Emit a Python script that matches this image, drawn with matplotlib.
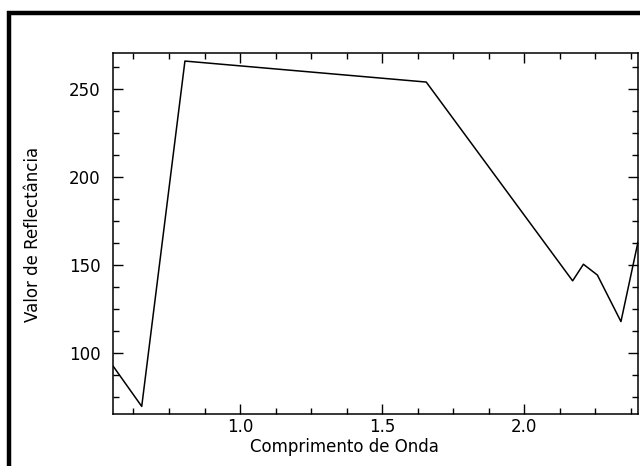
import matplotlib
matplotlib.use('Agg')
import matplotlib.pyplot as plt
import matplotlib.patches as patches
from matplotlib.ticker import MultipleLocator

# comprimento de onda (um) e valor de reflectancia
wavelength = [0.554, 0.654, 0.806, 1.655, 2.170, 2.208, 2.257, 2.340, 2.400]
reflectance = [92.5, 69.8, 265.6, 253.7, 141.0, 150.4, 144.3, 117.9, 163.0]

fig = plt.figure(figsize=(6.4, 4.66), dpi=100)
ax = fig.add_axes([113.3 / 640, 1 - 414 / 466, (638 - 113.3) / 640, (414 - 53.3) / 466])

ax.plot(wavelength, reflectance, color='black', lw=1.1)
ax.set_xlim(0.554, 2.40)
ax.set_ylim(65.5, 270)

ax.xaxis.set_major_locator(MultipleLocator(0.5))
ax.xaxis.set_minor_locator(MultipleLocator(0.125))
ax.yaxis.set_major_locator(MultipleLocator(50))
ax.yaxis.set_minor_locator(MultipleLocator(12.5))
ax.xaxis.set_major_formatter(lambda v, p: f'{v:.1f}')
ax.yaxis.set_major_formatter(lambda v, p: f'{v:.0f}')

ax.tick_params(which='both', direction='in', top=True, right=True, width=1.0)
ax.tick_params(which='major', length=7, labelsize=12)
ax.tick_params(which='minor', length=4)
ax.tick_params(axis='x', pad=3)
ax.tick_params(axis='y', pad=9)
for s in ax.spines.values():
    s.set_linewidth(1.1)

fig.text(344 / 640, 1 - 452 / 466, 'Comprimento de Onda', ha='center', va='baseline', fontsize=12)
fig.text(33 / 640, 1 - 234 / 466, 'Valor de Reflectância', ha='center', va='center',
         rotation=90, fontsize=12)

# moldura preta em volta (cortada a direita e em baixo)
frame = patches.Rectangle((9 / 640, -0.2), 1.3, 1 - 13.3 / 466 + 0.2, fill=False,
                          lw=3.2, edgecolor='black', transform=fig.transFigure,
                          clip_on=False)
fig.add_artist(frame)

plt.savefig('out.png', dpi=100)
